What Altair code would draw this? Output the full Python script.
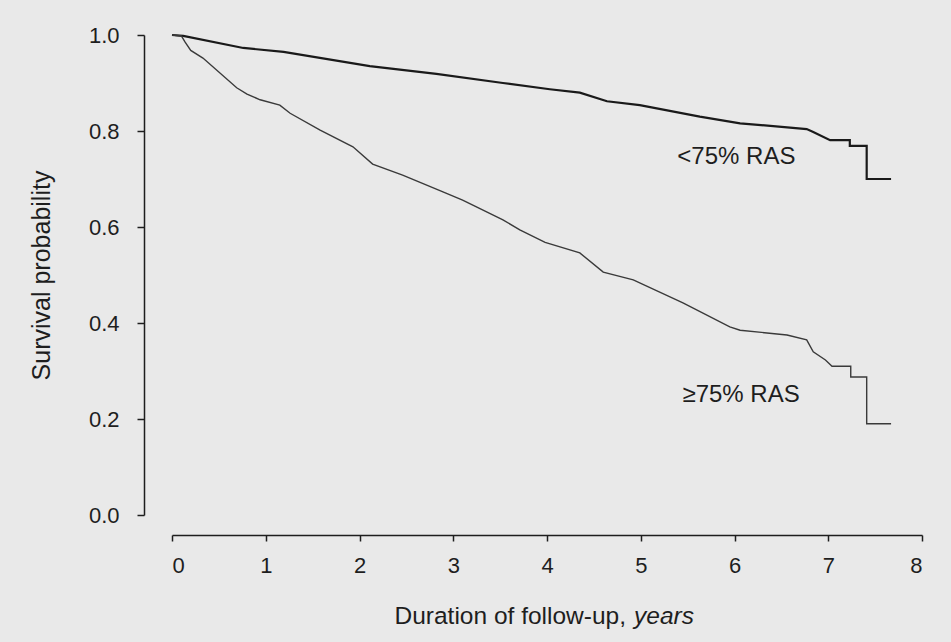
import altair as alt
import pandas as pd

# Kaplan-Meier curves
upper_t = [0.0, 0.12, 0.76, 1.19, 2.11, 2.82, 3.53, 4.03, 4.35, 4.64, 4.99, 5.63,
           6.06, 6.77, 6.84, 7.02, 7.23, 7.23, 7.41, 7.41, 7.67]
upper_s = [1.0, 0.998, 0.973, 0.965, 0.935, 0.919, 0.90, 0.887, 0.88, 0.862, 0.854, 0.83,
           0.816, 0.804, 0.798, 0.781, 0.781, 0.769, 0.769, 0.70, 0.70]

lower_t = [0.0, 0.10, 0.14, 0.20, 0.33, 0.69, 0.80, 0.94, 1.15, 1.26, 1.58, 1.93, 2.14, 2.46,
           2.89, 3.10, 3.53, 3.71, 3.98, 4.35, 4.60, 4.92, 5.45, 5.95, 6.06, 6.56, 6.77,
           6.84, 6.97, 7.04, 7.24, 7.24, 7.41, 7.41, 7.67]
lower_s = [1.0, 0.998, 0.985, 0.968, 0.952, 0.89, 0.877, 0.865, 0.854, 0.837, 0.802, 0.767, 0.731,
           0.708, 0.673, 0.656, 0.615, 0.594, 0.568, 0.546, 0.506, 0.49, 0.442, 0.392, 0.385,
           0.375, 0.365, 0.34, 0.323, 0.31, 0.31, 0.2875, 0.2875, 0.19, 0.19]

groups = ["<75% RAS", "≥75% RAS"]
label_t = [6.02, 6.07]
label_s = [0.746, 0.25]

x_ticks = [0, 1, 2, 3, 4, 5, 6, 7, 8]
y_ticks = [0.0, 0.2, 0.4, 0.6, 0.8, 1.0]

rows = []
for i, (t, s) in enumerate(zip(upper_t, upper_s)):
    rows.append({"t": t, "s": s, "g": groups[0], "o": i})
for i, (t, s) in enumerate(zip(lower_t, lower_s)):
    rows.append({"t": t, "s": s, "g": groups[1], "o": i})
df = pd.DataFrame(rows)
lab = pd.DataFrame({"t": label_t, "s": label_s, "g": groups})

FONT = "Liberation Sans"
INK = "#1e1e1e"

xscale = alt.Scale(domain=[0, 8], nice=False, zero=False)
yscale = alt.Scale(domain=[0, 1], nice=False)

x_axis = alt.Axis(values=x_ticks, format="d", offset=20, tickSize=6, tickWidth=1.5,
                  domainWidth=1.5, domainColor=INK, tickColor=INK, labelColor=INK,
                  labelFont=FONT, labelFontSize=22, labelPadding=14, grid=False, title=None)
y_axis = alt.Axis(values=y_ticks, format=".1f", offset=28, tickSize=7, tickWidth=1.5,
                  domainWidth=1.5, domainColor=INK, tickColor=INK, labelColor=INK,
                  labelFont=FONT, labelFontSize=22, labelPadding=18, grid=False,
                  title="Survival probability", titleFont=FONT, titleFontSize=25,
                  titleFontWeight="normal", titleColor=INK, titlePadding=34)

lines = alt.Chart(df).mark_line(interpolate="linear").encode(
    x=alt.X("t:Q", scale=xscale, axis=x_axis),
    y=alt.Y("s:Q", scale=yscale, axis=y_axis),
    detail="g:N",
    order="o:Q",
    strokeWidth=alt.StrokeWidth("g:N", scale=alt.Scale(domain=groups, range=[2.2, 1.4]), legend=None),
    color=alt.Color("g:N", scale=alt.Scale(domain=groups, range=["#1a1a1a", "#3a3a3a"]), legend=None),
)

labels = alt.Chart(lab).mark_text(font=FONT, fontSize=24, color=INK, align="center",
                                  baseline="middle").encode(
    x=alt.X("t:Q", scale=xscale), y=alt.Y("s:Q", scale=yscale), text="g:N")

one = pd.DataFrame({"a": [0]})
xt1 = alt.Chart(one).mark_text(text="Duration of follow-up,", font=FONT, fontSize=24.5,
                               color=INK, align="right", baseline="middle").encode(
    x=alt.value(454), y=alt.value(582))
xt2 = alt.Chart(one).mark_text(text="years", font=FONT, fontSize=24.5, fontStyle="italic",
                               color=INK, align="left", baseline="middle").encode(
    x=alt.value(462), y=alt.value(582))

chart = alt.layer(lines, labels, xt1, xt2).properties(
    width=750, height=480, background="#e9e9e9",
    padding={"left": 172, "top": 35, "right": 29, "bottom": 127},
    autosize=alt.AutoSizeParams(type="none"),
).configure_view(stroke=None)

chart.save("out.html", embed_options={"renderer": "svg", "actions": False})
